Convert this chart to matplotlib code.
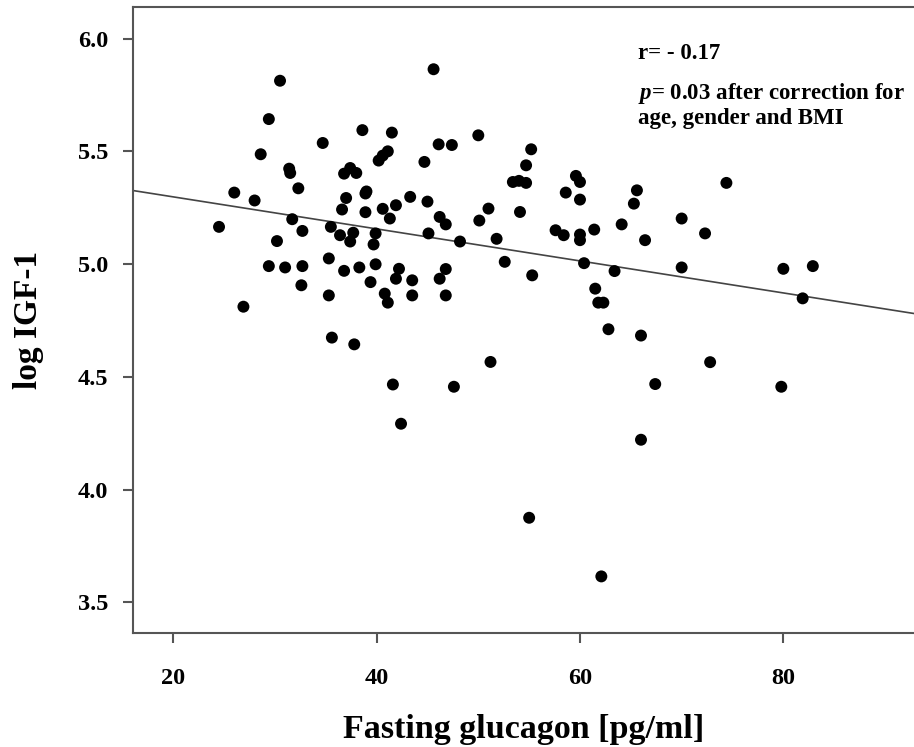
import matplotlib
matplotlib.use("Agg")
import matplotlib.pyplot as plt
import numpy as np

glucagon = [24.5, 26.0, 28.0, 28.6, 29.4, 30.5, 30.2, 29.4, 31.0, 31.4, 31.5, 31.7, 32.3, 32.7,
            32.7, 32.6, 34.7, 35.5, 35.3, 35.3, 36.4, 36.8, 37.0, 36.6, 36.8, 37.4, 38.0, 37.7,
            37.4, 38.3, 38.6, 38.9, 39.0, 38.9, 39.9, 39.7, 39.9, 39.4, 40.2, 40.6, 41.1, 41.5,
            40.6, 41.3, 41.9, 42.2, 41.9, 40.8, 43.5, 43.5, 43.3, 44.7, 45.0, 45.1, 45.6, 46.1,
            47.4, 46.2, 46.8, 46.8, 46.2, 46.8, 48.2, 50.0, 50.1, 51.0, 51.8, 52.6, 53.4, 54.0,
            54.7, 54.1, 55.2, 54.7, 55.3,
            58.6, 59.6, 60.0, 60.0, 57.6, 58.4, 60.0, 60.0, 61.4, 60.4, 61.5, 63.4, 64.1, 65.3,
            65.6, 66.4, 70.0, 70.0, 72.3, 74.4, 80.0, 82.9, 81.9,
            61.8, 62.3, 62.8, 66.0, 72.8, 67.4, 79.8, 66.0, 55.0, 62.1,
            41.1, 26.9, 35.6, 37.8, 51.2, 41.6, 47.6, 42.4]
log_igf1 = [5.165, 5.317, 5.282, 5.487, 5.643, 5.813, 5.102, 4.991, 4.985, 5.423, 5.404, 5.199,
            5.336, 5.147, 4.991, 4.906, 5.537, 5.165, 5.025, 4.861, 5.128, 5.401, 5.293, 5.242,
            4.970, 5.426, 5.404, 5.139, 5.100, 4.985, 5.594, 5.313, 5.322, 5.230, 5.136, 5.087,
            4.999, 4.920, 5.459, 5.481, 5.500, 5.583, 5.245, 5.202, 5.261, 4.979, 4.935, 4.869,
            4.928, 4.861, 5.298, 5.453, 5.277, 5.136, 5.864, 5.531, 5.528, 5.209, 5.176, 4.978,
            4.935, 4.861, 5.100, 5.571, 5.193, 5.246, 5.112, 5.010, 5.364, 5.369, 5.360, 5.231,
            5.509, 5.438, 4.950,
            5.317, 5.391, 5.364, 5.286, 5.150, 5.128, 5.131, 5.106, 5.153, 5.004, 4.891, 4.969,
            5.176, 5.268, 5.327, 5.106, 5.202, 4.985, 5.136, 5.360, 4.979, 4.991, 4.848,
            4.829, 4.829, 4.711, 4.683, 4.565, 4.468, 4.456, 4.221, 3.875, 3.615,
            4.829, 4.811, 4.674, 4.644, 4.566, 4.466, 4.456, 4.292]

fit_intercept = 5.440
fit_slope = -0.0071

x_ticks = [20, 40, 60, 80]
y_ticks = [3.5, 4.0, 4.5, 5.0, 5.5, 6.0]

plt.rcParams['font.family'] = ['Liberation Serif', 'DejaVu Serif']
plt.rcParams['font.weight'] = 'bold'
plt.rcParams['mathtext.fontset'] = 'custom'
plt.rcParams['mathtext.it'] = 'Liberation Serif:italic:bold'
plt.rcParams['mathtext.rm'] = 'Liberation Serif:bold'

fig = plt.figure(figsize=(9.14, 7.47), dpi=100)
ax = fig.add_axes([133/914, 114/747, 1 - 133/914, (633-7)/747])

xlim = (16.04, 92.85)
ylim = (3.364, 6.140)
ax.set_xlim(*xlim)
ax.set_ylim(*ylim)

ax.scatter(glucagon, log_igf1, s=74, color='black', edgecolors='none', zorder=3)
xl = np.array(xlim)
ax.plot(xl, fit_intercept + fit_slope * xl, color='#444444', linewidth=1.2, zorder=2)

ax.set_xticks(x_ticks)
ax.set_xticklabels([str(t) for t in x_ticks])
ax.set_yticks(y_ticks)
ax.set_yticklabels([f"{t:.1f}" for t in y_ticks])

for sp in ['left', 'bottom', 'top']:
    ax.spines[sp].set_color('#555555')
    ax.spines[sp].set_linewidth(1.5)
ax.spines['right'].set_visible(False)

ax.tick_params(axis='both', direction='out', length=7, width=1.5, color='#555555',
               labelsize=17.5)
ax.tick_params(axis='x', pad=18)
ax.tick_params(axis='y', pad=11)
for lab in ax.get_xticklabels() + ax.get_yticklabels():
    lab.set_fontweight('bold')

ax.set_xlabel('Fasting glucagon [pg/ml]', fontsize=24.5, fontweight='bold', labelpad=18)
ax.set_ylabel('log IGF-1', fontsize=24, fontweight='bold', labelpad=24)

fig.text(638/914, 1 - 59/747, 'r= - 0.17', fontsize=16.5, fontweight='bold',
         ha='left', va='baseline')
fig.text(638/914, 1 - 99/747, r'$p$= 0.03 after correction for', fontsize=16.5,
         fontweight='bold', ha='left', va='baseline')
fig.text(638/914, 1 - 124/747, 'age, gender and BMI', fontsize=16.5, fontweight='bold',
         ha='left', va='baseline')

fig.savefig('out.png', dpi=100)
